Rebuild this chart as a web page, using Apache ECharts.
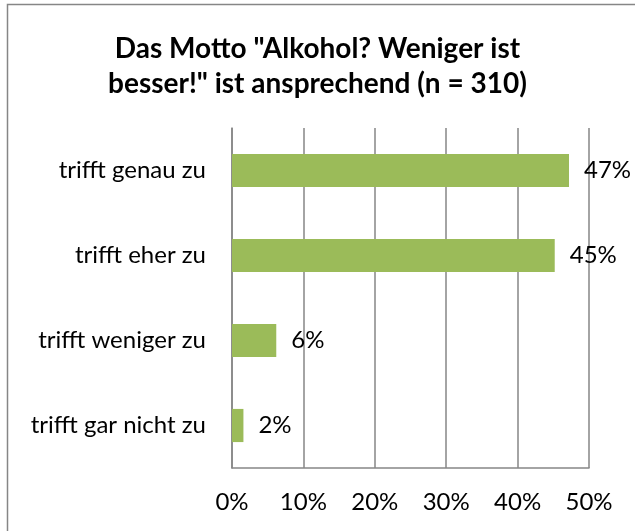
<!DOCTYPE html>
<html>
<head>
<meta charset="utf-8">
<style>
  html, body { margin: 0; padding: 0; background: #fff; }
  #chart { width: 635px; height: 531px; }
</style>
<script src="https://cdn.jsdelivr.net/npm/echarts@6/dist/echarts.min.js"></script>
</head>
<body>
<div id="chart"></div>
<script>
  // Werte (Prozent)
  const categories = ['trifft genau zu', 'trifft eher zu', 'trifft weniger zu', 'trifft gar nicht zu']
  const values = [47.2, 45.2, 6.2, 1.6]
  const xTicks = [0, 10, 20, 30, 40, 50]

  const font = 'Lato, "Open Sans", sans-serif'
  let chart = echarts.init(document.getElementById('chart'))

  let option = {
    animation: false,
    backgroundColor: '#fff',
    title: {
      text: 'Das Motto "Alkohol? Weniger ist\nbesser!" ist ansprechend (n = 310)',
      left: 'center',
      top: 26,
      textStyle: {
        fontFamily: font,
        fontWeight: 'bold',
        fontSize: 28,
        lineHeight: 35,
        color: '#000'
      }
    },
    graphic: [{
      type: 'rect',
      shape: { x: 7.5, y: 4.5, width: 640, height: 540 },
      style: { fill: null, stroke: '#868686', lineWidth: 1.5 },
      silent: true
    }],
    grid: {
      left: 232,
      right: 46,
      top: 128,
      bottom: 63
    },
    xAxis: {
      type: 'value',
      min: xTicks[0],
      max: xTicks[xTicks.length - 1],
      interval: 10,
      axisLine: { show: true, lineStyle: { color: '#868686', width: 1.5 } },
      axisTick: { show: false },
      axisLabel: {
        formatter: '{value}%',
        fontFamily: font,
        fontSize: 24,
        color: '#000',
        margin: 22
      },
      splitLine: { show: true, lineStyle: { color: '#868686', width: 1.5 } }
    },
    yAxis: {
      type: 'category',
      data: categories,
      inverse: true,
      axisLine: { show: true, lineStyle: { color: '#868686', width: 1.5 } },
      axisTick: { show: false },
      axisLabel: {
        fontFamily: font,
        fontSize: 24,
        color: '#000',
        margin: 26
      }
    },
    series: [{
      type: 'bar',
      data: values,
      barCategoryGap: '61%',
      itemStyle: { color: '#9BBB59' },
      label: {
        show: true,
        position: 'right',
        distance: 15,
        formatter: p => Math.round(p.value) + '%',
        fontFamily: font,
        fontSize: 24,
        color: '#000'
      }
    }]
  }

  chart.setOption(option)
</script>
</body>
</html>
